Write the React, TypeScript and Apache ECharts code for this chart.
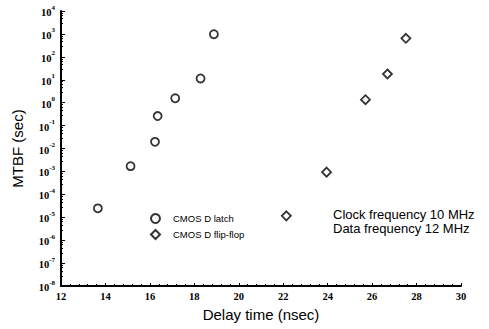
import React, { useEffect, useRef } from 'react';
import * as echarts from 'echarts';

const latchDelay = [13.66, 15.13, 16.23, 16.35, 17.14, 18.28, 18.88];
const latchMtbf = [2.45e-5, 1.7e-3, 1.95e-2, 0.26, 1.55, 11.4, 970];
const flipDelay = [22.14, 23.95, 25.7, 26.69, 27.52];
const flipMtbf = [1.15e-5, 9.3e-4, 1.35, 17.8, 645];
const seriesNames = ['CMOS D latch', 'CMOS D flip-flop'];
const noteLines = ['Clock frequency 10 MHz', 'Data frequency 12 MHz'];
const xTitle = 'Delay time (nsec)';
const yTitle = 'MTBF (sec)';

export default function App() {
  const ref = useRef<HTMLDivElement>(null);
  useEffect(() => {
    if (!ref.current) return;
    const chart = echarts.init(ref.current, undefined, { renderer: 'svg' });
    const sans = 'Liberation Sans';
    const serif = 'Liberation Serif';
    chart.setOption({
      animation: false,
      backgroundColor: '#ffffff',
      grid: { left: 61, right: 28, top: 11, bottom: 43 },
      legend: {
        orient: 'vertical',
        left: 145,
        top: 208,
        itemWidth: 9,
        itemHeight: 9,
        itemGap: 5,
        textStyle: { fontFamily: sans, fontSize: 9.5, color: '#000', padding: [0, 0, 0, 8] },
        data: seriesNames,
      },
      xAxis: {
        type: 'value',
        min: 12,
        max: 30,
        interval: 2,
        name: xTitle,
        nameLocation: 'middle',
        nameGap: 21,
        nameTextStyle: { fontFamily: sans, fontSize: 15, color: '#000' },
        axisLine: { show: true, lineStyle: { color: '#000', width: 2 } },
        axisTick: { show: true, inside: true, length: 3, lineStyle: { color: '#000' } },
        minorTick: { show: true, splitNumber: 5, length: 2, lineStyle: { color: '#000' } },
        splitLine: { show: false },
        axisLabel: { fontFamily: serif, fontWeight: 'bold', fontSize: 10.5, color: '#000', margin: 5 },
      },
      yAxis: {
        type: 'log',
        logBase: 10,
        min: 1e-8,
        max: 1e4,
        interval: 1,
        name: yTitle,
        nameLocation: 'middle',
        nameGap: 36,
        nameTextStyle: { fontFamily: sans, fontSize: 15, color: '#000' },
        axisLine: { show: true, lineStyle: { color: '#000', width: 2 } },
        axisTick: { show: true, inside: true, length: 4, lineStyle: { color: '#000' } },
        minorTick: { show: true, splitNumber: 5, length: 2, lineStyle: { color: '#000' } },
        splitLine: { show: false },
        axisLabel: {
          margin: 6,
          formatter: (v: number) => {
            const e = Math.round(Math.log10(v));
            return '{b|10}{s|' + e + '}';
          },
          rich: {
            b: { fontFamily: serif, fontWeight: 'bold', fontSize: 10.5, color: '#000', lineHeight: 14, verticalAlign: 'bottom' },
            s: { fontFamily: serif, fontWeight: 'bold', fontSize: 7, color: '#000', lineHeight: 14, verticalAlign: 'top' },
          },
        },
      },
      graphic: [
        {
          type: 'text',
          left: 333,
          top: 207,
          style: {
            text: noteLines.join('\n'),
            fontFamily: sans,
            fontSize: 13,
            lineHeight: 14,
            fill: '#000',
          },
        },
      ],
      series: [
        {
          name: seriesNames[0],
          type: 'scatter',
          symbol: 'circle',
          symbolSize: 8,
          itemStyle: { color: '#fff', borderColor: '#000', borderWidth: 1.8 },
          data: latchDelay.map((d, i) => [d, latchMtbf[i]]),
        },
        {
          name: seriesNames[1],
          type: 'scatter',
          symbol: 'diamond',
          symbolSize: 9,
          itemStyle: { color: '#fff', borderColor: '#000', borderWidth: 1.8 },
          data: flipDelay.map((d, i) => [d, flipMtbf[i]]),
        },
      ],
    });
    return () => chart.dispose();
  }, []);
  return (
    <div
      ref={ref}
      style={{ position: 'fixed', left: 0, top: 0, width: 489, height: 329, background: '#fff' }}
    />
  );
}
